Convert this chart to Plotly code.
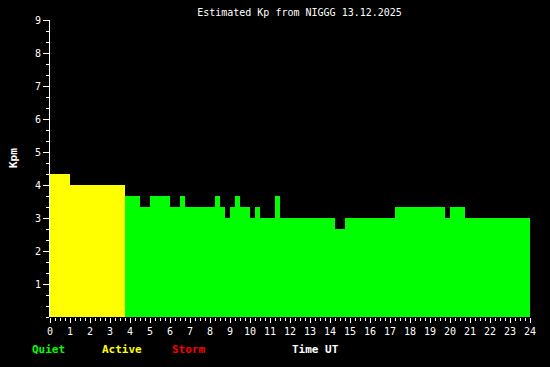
import plotly.graph_objects as go

# Step segments of estimated Kp (UT hours)
seg_start = [0, 1, 3.75, 4.5, 5, 6, 6.5, 6.75, 8.25, 8.5, 8.75, 9, 9.25, 9.5, 10, 10.25,
             10.5, 11.25, 11.5, 14.25, 14.75, 17.25, 19.75, 20, 20.75]
seg_end = [1, 3.75, 4.5, 5, 6, 6.5, 6.75, 8.25, 8.5, 8.75, 9, 9.25, 9.5, 10, 10.25, 10.5,
           11.25, 11.5, 14.25, 14.75, 17.25, 19.75, 20, 20.75, 24]
kp_values = [4.333, 4.0, 3.667, 3.333, 3.667, 3.333, 3.667, 3.333, 3.667, 3.333, 3.0, 3.333,
             3.667, 3.333, 3.0, 3.333, 3.0, 3.667, 3.0, 2.667, 3.0, 3.333, 3.0, 3.333, 3.0]

x_ticks = list(range(0, 25))
y_ticks = list(range(1, 10))

GREEN = "#00ff00"
YELLOW = "#ffff00"
RED = "#ff0000"


def level_color(v):
    if v >= 5:
        return RED
    if v >= 4:
        return YELLOW
    return GREEN


widths = [e - s for s, e in zip(seg_start, seg_end)]
colors = [level_color(v) for v in kp_values]

fig = go.Figure(go.Bar(
    x=seg_start, y=kp_values, width=widths, offset=0,
    marker=dict(color=colors, line=dict(width=0)),
    hoverinfo="skip",
))

FONT = "DejaVu Sans Mono"
L, R, T, B = 50, 20, 20, 50
W, H = 550, 367
pw, ph = W - L - R, H - T - B


def px_x(px):
    return (px - L) / pw


def px_y(py):
    return (H - B - py) / ph


fig.update_layout(
    width=W, height=H,
    margin=dict(l=L, r=R, t=T, b=B),
    paper_bgcolor="black", plot_bgcolor="black",
    showlegend=False,
    font=dict(family=FONT, size=10, color="white"),
    title=dict(text="Estimated Kp from NIGGG 13.12.2025", x=299.5 / W, xanchor="center",
               y=1 - 12 / H, yanchor="middle", yref="container",
               font=dict(family=FONT, size=10, color="white")),
    xaxis=dict(range=[0, 24], tickvals=x_ticks, ticks="outside", ticklen=5, tickcolor="white",
               showgrid=False, zeroline=False, showline=False,
               tickfont=dict(family=FONT, size=10, color="white"),
               minor=dict(dtick=0.25, tick0=0, ticks="outside", ticklen=3, tickcolor="white",
                          showgrid=False)),
    yaxis=dict(range=[0, 9], tickvals=y_ticks, ticks="outside", ticklen=6, tickcolor="white",
               showgrid=False, zeroline=False, showline=True, linecolor="white", linewidth=1,
               tickfont=dict(family=FONT, size=10, color="white"),
               minor=dict(dtick=1 / 3, tick0=0, ticks="outside", ticklen=3, tickcolor="white",
                          showgrid=False)),
)

labels = [("Quiet", 30, GREEN), ("Active", 100, YELLOW), ("Storm", 170, RED), ("Time UT", 290, "white")]
for txt, xpx, col in labels:
    fig.add_annotation(text="<b>" + txt + "</b>", x=px_x(xpx), y=px_y(349), xref="paper", yref="paper",
                       xanchor="left", yanchor="middle", showarrow=False,
                       font=dict(family=FONT, size=11, color=col))

fig.add_annotation(text="<b>Kpm</b>", x=px_x(13), y=px_y(158), xref="paper", yref="paper",
                   xanchor="center", yanchor="middle", showarrow=False, textangle=-90,
                   font=dict(family=FONT, size=11, color="white"))

fig.write_html("out.html")
